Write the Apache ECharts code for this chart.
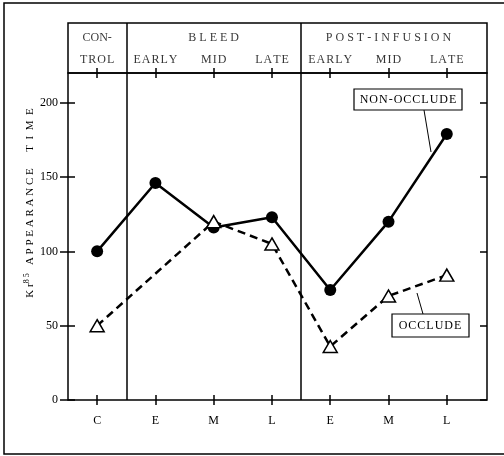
<!DOCTYPE html>
<html>
<head>
<meta charset="utf-8">
<script src="https://cdn.jsdelivr.net/npm/echarts@6/dist/echarts.min.js"></script>
<style>
html,body{margin:0;padding:0;background:#fff;}
#chart{width:504px;height:456px;}
</style>
</head>
<body>
<div id="chart"></div>
<script>
// 数据
var stageNames = ['C', 'E', 'M', 'L', 'E', 'M', 'L'];
var stageX = [0, 1, 2, 3, 4, 5, 6];
var nonOcclude = [100, 146, 116, 123, 74, 120, 179];
var occlude = [50, null, 120, 105, 36, 70, 84];
var yTicks = [0, 50, 100, 150, 200];
var phaseBreaks = [0.5, 3.5];
// 表头文字 [x, 文字]
var headTop = [[0, 'CON-'], [2, 'B L E E D'], [5, 'P O S T - I N F U S I O N']];
var headSub = [[0, 'TROL'], [1, 'EARLY'], [2, 'MID'], [3, 'LATE'], [4, 'EARLY'], [5, 'MID'], [6, 'LATE']];

var FONT = '"Liberation Serif", "DejaVu Serif", serif';
var X_MIN = -0.5, X_MAX = 6.69;

// 字母间加细空格
function spaced(s) {
	return s.split('').join('\u200A');
}

function pairs(vals) {
	var out = [];
	for (var i = 0; i < vals.length; i++) {
		out.push([stageX[i], vals[i]]);
	}
	return out;
}

function tickAxis(pos, inside, len, labels) {
	return {
		type: 'value', gridIndex: 0, position: pos, min: X_MIN, max: X_MAX,
		axisLine: {show: false, onZero: false},
		splitLine: {show: false},
		axisTick: {show: true, inside: inside, length: len, customValues: stageX,
			lineStyle: {color: '#000', width: 1.5}},
		axisLabel: labels ? {
			show: true, customValues: stageX, margin: 15,
			fontFamily: FONT, fontSize: 12, color: '#000',
			formatter: function (v) { return stageNames[Math.round(v)]; }
		} : {show: false}
	};
}

function yTickAxis(pos, inside, len, labels) {
	return {
		type: 'value', gridIndex: 0, position: pos, min: 0, max: 220,
		axisLine: {show: false, onZero: false},
		splitLine: {show: false},
		axisTick: {show: true, inside: inside, length: len, customValues: yTicks,
			lineStyle: {color: '#000', width: 1.5}},
		axisLabel: labels ? {
			show: true, customValues: yTicks, margin: 10,
			fontFamily: FONT, fontSize: 12, color: '#000'
		} : {show: false}
	};
}

var headData = [];
headTop.forEach(function (h) { headData.push([h[0], 35, h[1]]); });
headSub.forEach(function (h) { headData.push([h[0], 13, spaced(h[1])]); });

var breakLines = {
	silent: true, symbol: 'none',
	label: {show: false},
	lineStyle: {color: '#000', width: 1.5, type: 'solid'},
	data: phaseBreaks.map(function (b) { return {xAxis: b}; })
};

var myChart = echarts.init(document.getElementById('chart'));
var option = {
	backgroundColor: '#fff',
	animation: false,
	grid: [
		{left: 68, right: 17, top: 73, bottom: 56, show: true, borderColor: '#000', borderWidth: 1.5, backgroundColor: 'transparent'},
		{left: 68, right: 17, top: 23, height: 50, show: true, borderColor: '#000', borderWidth: 1.5, backgroundColor: 'transparent'}
	],
	xAxis: [
		tickAxis('bottom', false, 5, true),
		tickAxis('bottom', true, 5, false),
		tickAxis('top', true, 5, false),
		tickAxis('top', false, 5, false),
		{type: 'value', gridIndex: 1, min: X_MIN, max: X_MAX, show: false}
	],
	yAxis: [
		yTickAxis('left', false, 8, true),
		yTickAxis('left', true, 7, false),
		yTickAxis('right', true, 7, false),
		{type: 'value', gridIndex: 1, min: 0, max: 50, show: false}
	],
	series: [
		{
			name: 'NON-OCCLUDE', type: 'line', xAxisIndex: 0, yAxisIndex: 0,
			data: pairs(nonOcclude),
			symbol: 'circle', symbolSize: 12,
			itemStyle: {color: '#000'},
			lineStyle: {color: '#000', width: 2.5},
			markLine: breakLines,
			z: 3
		},
		{
			name: 'OCCLUDE', type: 'line', xAxisIndex: 0, yAxisIndex: 0,
			data: pairs(occlude), connectNulls: true,
			symbol: 'triangle', symbolSize: [14, 12],
			itemStyle: {color: '#fff', borderColor: '#000', borderWidth: 1.5},
			lineStyle: {color: '#000', width: 2.5, type: [8, 5]},
			z: 4
		},
		{
			type: 'scatter', xAxisIndex: 4, yAxisIndex: 3,
			data: headData, symbolSize: 0, silent: true,
			label: {
				show: true, position: 'inside', fontFamily: FONT, fontSize: 12, color: '#000',
				formatter: function (p) { return p.data[2]; }
			},
			markLine: breakLines
		}
	],
	graphic: [
		// 外框
		{type: 'polyline', shape: {points: [[504, 3], [4, 3], [4, 454], [504, 454]]},
			style: {stroke: '#000', lineWidth: 1.5, fill: null}},
		// 纵轴标题
		{type: 'text', x: 30, y: 203, rotation: Math.PI / 2,
			style: {
				text: '{b|K r}{s|8 5}{b|   A P P E A R A N C E      T  I  M  E}',
				align: 'center', verticalAlign: 'middle',
				rich: {
					b: {fontFamily: FONT, fontSize: 11, fill: '#000'},
					s: {fontFamily: FONT, fontSize: 8, fill: '#000', verticalAlign: 'top', padding: [0, 0, 6, 0]}
				}
			}},
		// 图例标注
		{type: 'line', shape: {x1: 424, y1: 110, x2: 431, y2: 152}, style: {stroke: '#000', lineWidth: 1}},
		{type: 'rect', shape: {x: 354, y: 89, width: 108, height: 21},
			style: {fill: '#fff', stroke: '#000', lineWidth: 1.2}},
		{type: 'text', x: 408, y: 100,
			style: {text: spaced('NON-OCCLUDE'), fontFamily: FONT, fontSize: 12, fill: '#000', align: 'center', verticalAlign: 'middle'}},
		{type: 'line', shape: {x1: 417, y1: 293, x2: 423, y2: 314}, style: {stroke: '#000', lineWidth: 1}},
		{type: 'rect', shape: {x: 392, y: 314, width: 77, height: 23},
			style: {fill: '#fff', stroke: '#000', lineWidth: 1.2}},
		{type: 'text', x: 430, y: 326,
			style: {text: spaced('OCCLUDE'), fontFamily: FONT, fontSize: 12, fill: '#000', align: 'center', verticalAlign: 'middle'}}
	]
};
myChart.setOption(option);
</script>
</body>
</html>
